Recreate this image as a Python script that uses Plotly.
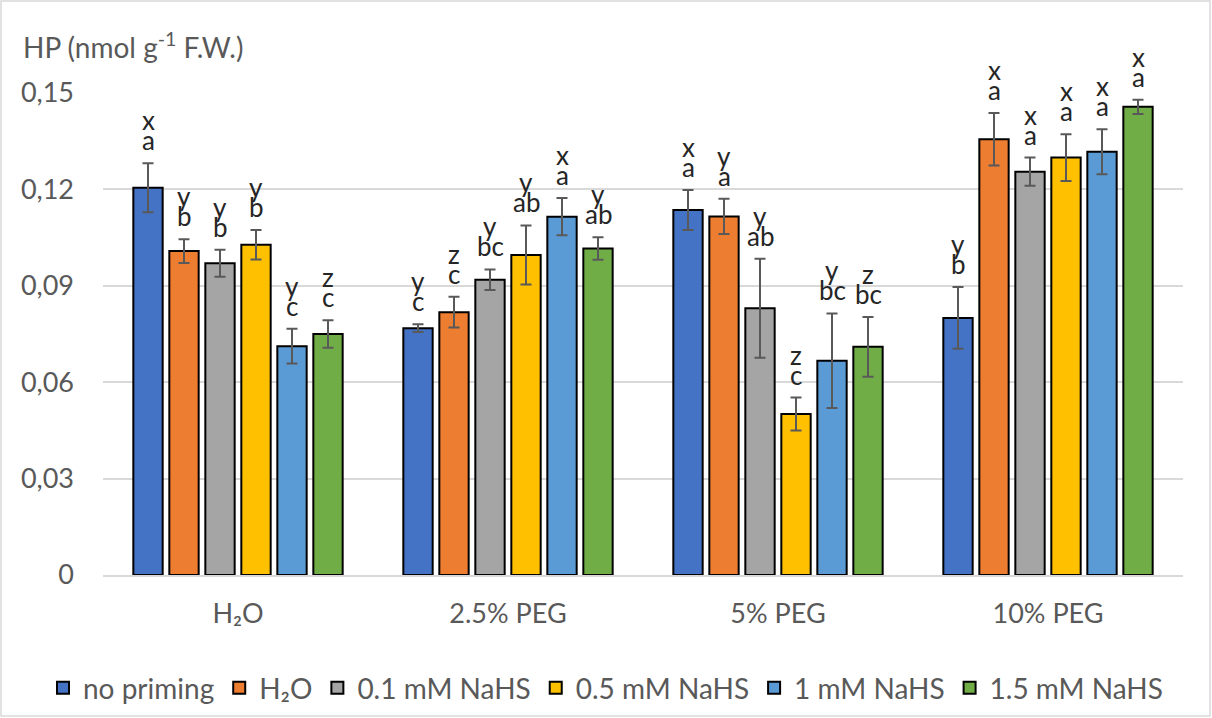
import plotly.graph_objects as go

categories = ["H₂O", "2.5% PEG", "5% PEG", "10% PEG"]
series_names = ["no priming", "H₂O", "0.1 mM NaHS", "0.5 mM NaHS", "1 mM NaHS", "1.5 mM NaHS"]

no_priming = [0.1205, 0.0768, 0.1136, 0.0800]
h2o = [0.1008, 0.0818, 0.1116, 0.1356]
nahs_01 = [0.0970, 0.0919, 0.0830, 0.1255]
nahs_05 = [0.1028, 0.0996, 0.0501, 0.1299]
nahs_1 = [0.0712, 0.1115, 0.0667, 0.1317]
nahs_15 = [0.0750, 0.1016, 0.0710, 0.1457]

err_no_priming = [0.0076, 0.0012, 0.0062, 0.0096]
err_h2o = [0.0037, 0.0048, 0.0055, 0.0082]
err_nahs_01 = [0.0042, 0.0032, 0.0154, 0.0044]
err_nahs_05 = [0.0046, 0.0092, 0.0051, 0.0073]
err_nahs_1 = [0.0054, 0.0058, 0.0147, 0.0070]
err_nahs_15 = [0.0043, 0.0035, 0.0093, 0.0022]

# letters: upper (x/y/z) and lower (a/b/c), per series across groups
upper_no_priming = ["x", "y", "x", "y"]
upper_h2o = ["y", "z", "y", "x"]
upper_nahs_01 = ["y", "y", "y", "x"]
upper_nahs_05 = ["y", "y", "z", "x"]
upper_nahs_1 = ["y", "x", "y", "x"]
upper_nahs_15 = ["z", "y", "z", "x"]

lower_no_priming = ["a", "c", "a", "b"]
lower_h2o = ["b", "c", "a", "a"]
lower_nahs_01 = ["b", "bc", "ab", "a"]
lower_nahs_05 = ["b", "ab", "c", "a"]
lower_nahs_1 = ["c", "a", "bc", "a"]
lower_nahs_15 = ["c", "ab", "bc", "a"]

y_ticks = [0, 0.03, 0.06, 0.09, 0.12, 0.15]
y_ticktext = ["0", "0,03", "0,06", "0,09", "0,12", "0,15"]

values = [no_priming, h2o, nahs_01, nahs_05, nahs_1, nahs_15]
errors = [err_no_priming, err_h2o, err_nahs_01, err_nahs_05, err_nahs_1, err_nahs_15]
uppers = [upper_no_priming, upper_h2o, upper_nahs_01, upper_nahs_05, upper_nahs_1, upper_nahs_15]
lowers = [lower_no_priming, lower_h2o, lower_nahs_01, lower_nahs_05, lower_nahs_1, lower_nahs_15]
colors = ["#4472C4", "#ED7D31", "#A5A5A5", "#FFC000", "#5B9BD5", "#70AD47"]

FONT = "Lato, 'Liberation Sans', Arial, sans-serif"
TXT = "#595959"
BARGAP = 0.2
GROUPGAP = 0.185

W, H = 1212, 718
ML, MR, MT, MB = 103, 29, 93, 143
PW, PH = W - ML - MR, H - MT - MB

xpos = list(range(len(categories)))
fig = go.Figure()
for name, vals, errs, col in zip(series_names, values, errors, colors):
    fig.add_trace(go.Bar(
        x=xpos, y=vals, name=name,
        marker=dict(color=col, line=dict(color="#000000", width=2)),
        error_y=dict(type="data", array=errs, visible=True, color="#595959",
                     thickness=2, width=5.5),
    ))

n = len(series_names)
slot = (1 - BARGAP) / n
annotations = []
for i in range(n):
    for g in range(len(categories)):
        xc = g + (i - (n - 1) / 2) * slot
        ytop = values[i][g] + errors[i][g]
        annotations.append(dict(x=xc, y=ytop, xref="x", yref="y", text=lowers[i][g],
                                showarrow=False, yanchor="bottom", yshift=5,
                                font=dict(family=FONT, size=26, color="#262626")))
        annotations.append(dict(x=xc, y=ytop, xref="x", yref="y", text=uppers[i][g],
                                showarrow=False, yanchor="bottom", yshift=25,
                                font=dict(family=FONT, size=26, color="#262626")))

annotations.append(dict(x=(21 - ML) / PW, y=(MT - 46) / PH + 1, xref="paper", yref="paper",
                        text="HP (nmol g<sup>-1</sup> F.W.)", showarrow=False,
                        xanchor="left", yanchor="middle",
                        font=dict(family=FONT, size=28, color=TXT)))

fig.update_layout(
    width=W, height=H,
    margin=dict(l=ML, r=MR, t=MT, b=MB, pad=0, autoexpand=False),
    paper_bgcolor="white", plot_bgcolor="white",
    barmode="group", bargap=BARGAP, bargroupgap=GROUPGAP,
    font=dict(family=FONT, size=27, color=TXT),
    showlegend=True,
    legend=dict(orientation="h", x=(43 - ML) / PW, xanchor="left",
                y=-(688 - (H - MB)) / PH, yanchor="middle",
                font=dict(family=FONT, size=28, color=TXT),
                itemwidth=30, tracegroupgap=0, traceorder="normal"),
    annotations=annotations,
    shapes=[dict(type="rect", xref="paper", yref="paper",
                 x0=(1 - ML) / PW, x1=(W - 2 - ML) / PW,
                 y0=-(MB - 2) / PH, y1=1 + (MT - 1) / PH,
                 line=dict(color="#D9D9D9", width=1.5), fillcolor="rgba(0,0,0,0)",
                 layer="below")],
)
fig.update_xaxes(range=[-0.5, len(categories) - 0.5], tickvals=xpos, ticktext=categories,
                 showgrid=False, showline=True, linecolor="#D9D9D9", linewidth=1.5,
                 ticks="", ticklabelstandoff=14, zeroline=False,
                 tickfont=dict(family=FONT, size=27, color=TXT))
fig.update_yaxes(range=[0, 0.15], tickvals=y_ticks, ticktext=y_ticktext,
                 showgrid=True, gridcolor="#D9D9D9", gridwidth=1.5,
                 zeroline=False, showline=False, ticks="", ticklabelstandoff=28,
                 tickfont=dict(family=FONT, size=27, color=TXT))

fig.write_html("out.html", config={"displayModeBar": False},
               post_script="document.body.style.margin='0px';")
